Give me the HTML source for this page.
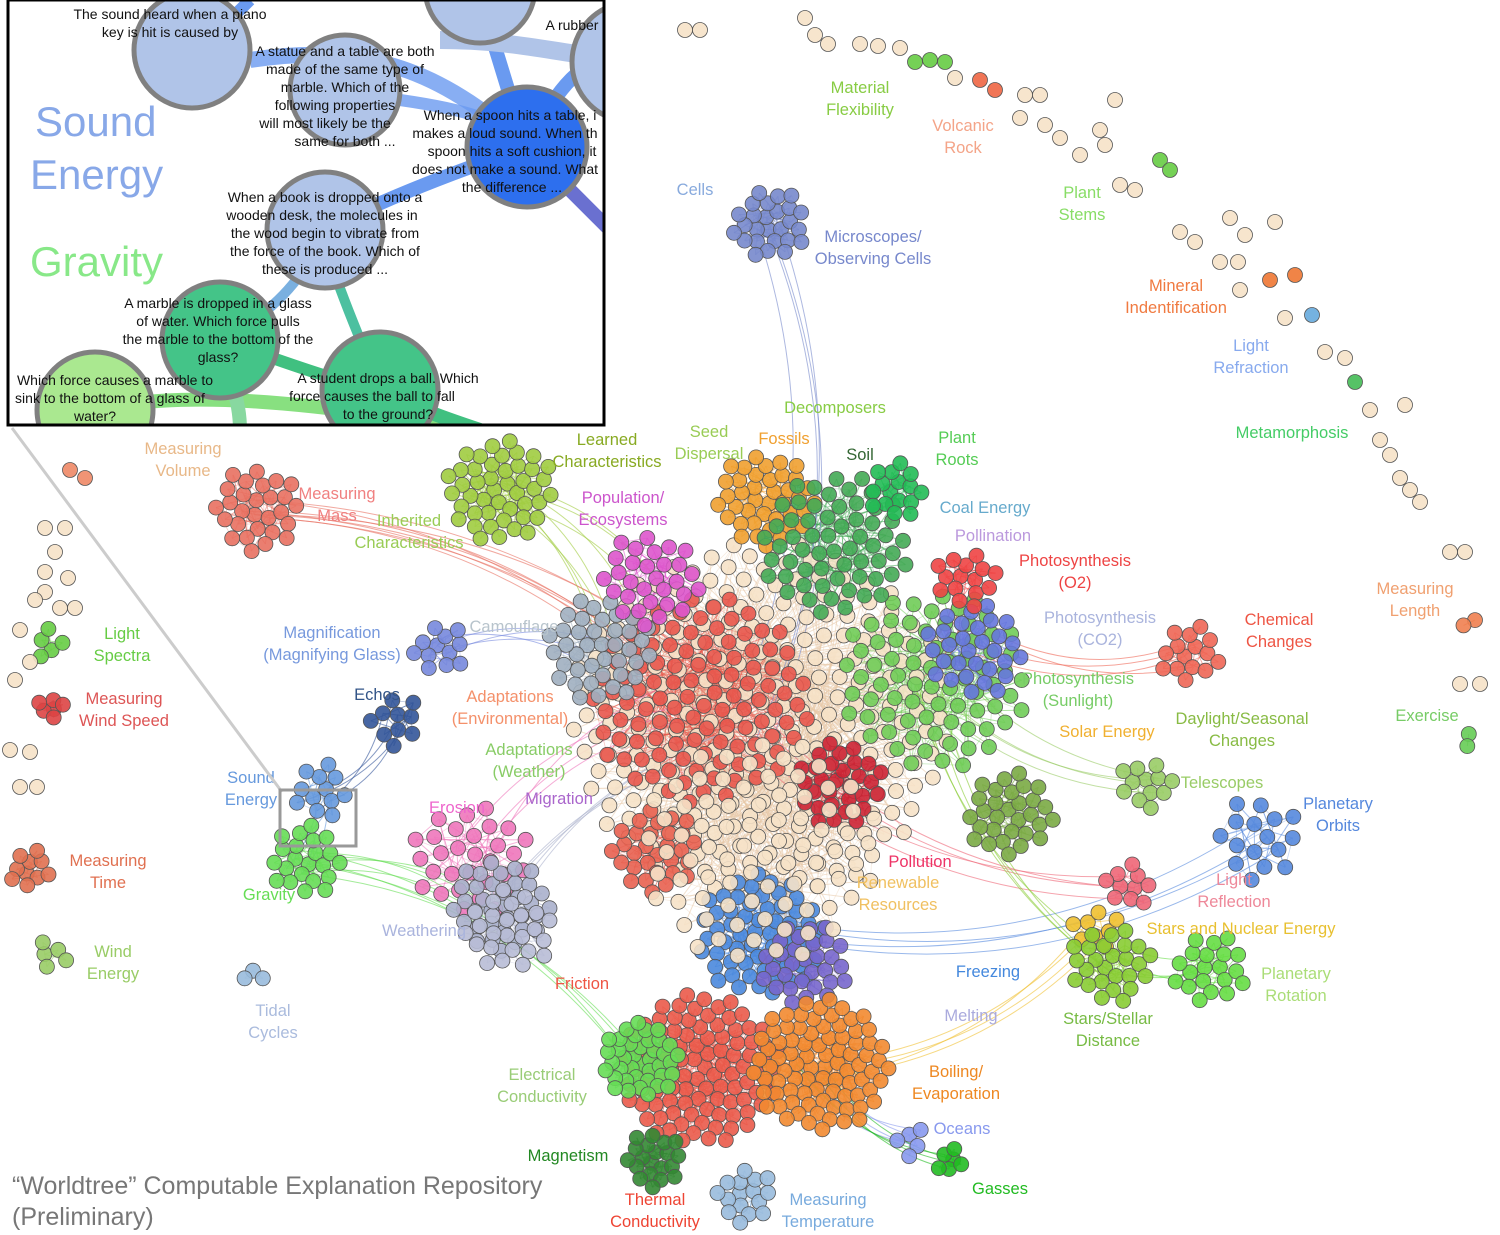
<!DOCTYPE html>
<html><head><meta charset="utf-8">
<style>
html,body{margin:0;padding:0;background:#fff;}
svg{display:block;font-family:"Liberation Sans",sans-serif;}
</style></head>
<body>
<svg id="chart" width="1500" height="1235" viewBox="0 0 1500 1235" xmlns="http://www.w3.org/2000/svg">
<g id="edges"></g>
<g id="nodes"></g>
<g id="labels"></g>
<line x1="12" y1="428" x2="282" y2="792" stroke="#ccc" stroke-width="3"/>
<rect x="280" y="790" width="76" height="56" fill="none" stroke="#999" stroke-width="3"/>
<g id="inset">
 <defs><clipPath id="ic"><rect x="8" y="0" width="596" height="425"/></clipPath></defs>
 <rect x="8" y="0" width="596" height="425" fill="#fff"/>
 <g clip-path="url(#ic)">
  <path d="M250,60 C380,40 450,80 527,147" stroke="#6a9af0" stroke-width="16" fill="none" opacity="0.8"/>
  <path d="M400,100 C470,110 500,120 527,147" stroke="#6a9af0" stroke-width="12" fill="none" opacity="0.8"/>
  <path d="M480,0 C500,60 510,100 527,147" stroke="#6a9af0" stroke-width="14" fill="none"/>
  <path d="M527,147 C560,80 590,50 630,60" stroke="#6a9af0" stroke-width="14" fill="none"/>
  <path d="M527,147 C560,180 590,210 610,230" stroke="#6a70d0" stroke-width="14" fill="none"/>
  <path d="M527,147 C460,170 380,200 325,230" stroke="#6a9af0" stroke-width="14" fill="none"/>
  <path d="M250,0 C230,20 210,40 192,50" stroke="#6a9af0" stroke-width="12" fill="none"/>
  <path d="M440,40 C520,40 560,55 630,60" stroke="#b0c4e8" stroke-width="18" fill="none"/>
  <path d="M325,230 C300,290 260,320 220,340" stroke="#7ab0e0" stroke-width="10" fill="none"/>
  <path d="M330,260 C350,320 370,360 380,390" stroke="#4cc0a0" stroke-width="10" fill="none"/>
  <path d="M220,340 C280,360 330,380 380,390" stroke="#40c080" stroke-width="12" fill="none"/>
  <path d="M95,410 C180,390 300,400 480,430" stroke="#88e080" stroke-width="14" fill="none"/>
  <path d="M220,340 C230,380 240,400 240,430" stroke="#88d8a0" stroke-width="14" fill="none"/>
  <path d="M380,390 C420,410 450,420 480,430" stroke="#40c080" stroke-width="14" fill="none"/>
  <g stroke="#808080" stroke-width="5">
   <circle cx="192" cy="50" r="58" fill="#b0c4e8"/>
   <circle cx="480" cy="-12" r="55" fill="#b0c4e8"/>
   <circle cx="632" cy="62" r="60" fill="#b0c4e8"/>
   <circle cx="345" cy="90" r="55" fill="#b0c4e8"/>
   <circle cx="527" cy="147" r="60" fill="#2d6fee"/>
   <circle cx="325" cy="230" r="58" fill="#b0c4e8"/>
   <circle cx="220" cy="340" r="58" fill="#44c488"/>
   <circle cx="380" cy="390" r="58" fill="#44c488"/>
   <circle cx="95" cy="410" r="58" fill="#aae890"/>
  </g>
  <g font-size="14" fill="#111" text-anchor="middle">
   <text x="170" y="19">The sound heard when a piano</text><text x="170" y="37">key is hit is caused by</text>
   <text x="345" y="56">A statue and a table are both</text><text x="345" y="74">made of the same type of</text><text x="345" y="92">marble. Which of the</text><text x="335" y="110">following properties</text><text x="325" y="128">will most likely be the</text><text x="345" y="146">same for both ...</text>
   <text x="572" y="30">A rubber</text>
   <text x="510" y="120">When a spoon hits a table, i</text><text x="505" y="138">makes a loud sound. When th</text><text x="512" y="156">spoon hits a soft cushion, it</text><text x="505" y="174">does not make a sound. What</text><text x="512" y="192">the difference ...</text>
   <text x="325" y="202">When a book is dropped onto a</text><text x="322" y="220">wooden desk, the molecules in</text><text x="325" y="238">the wood begin to vibrate from</text><text x="325" y="256">the force of the book. Which of</text><text x="325" y="274">these is produced ...</text>
   <text x="218" y="308">A marble is dropped in a glass</text><text x="218" y="326">of water. Which force pulls</text><text x="218" y="344">the marble to the bottom of the</text><text x="218" y="362">glass?</text>
   <text x="115" y="385">Which force causes a marble to</text><text x="110" y="403">sink to the bottom of a glass of</text><text x="95" y="421">water?</text>
   <text x="388" y="383">A student drops a ball. Which</text><text x="372" y="401">force causes the ball to fall</text><text x="388" y="419">to the ground?</text>
  </g>
  <text x="35" y="136" font-size="42" fill="#88a8e8">Sound</text>
  <text x="30" y="189" font-size="42" fill="#88a8e8">Energy</text>
  <text x="30" y="276" font-size="42" fill="#88e888">Gravity</text>
 </g>
 <rect x="8" y="0" width="596" height="425" fill="none" stroke="#000" stroke-width="3"/>
</g>
<text x="12" y="1194" font-size="25" fill="#777">“Worldtree” Computable Explanation Repository</text>
<text x="12" y="1225" font-size="25" fill="#777">(Preliminary)</text>
</svg>
<script>
// clusters: name, centerX, centerY, spread, count, color
const clusterNames=["beige-main","red-main","green-right","blue-right","darkred","grayblue-left","magenta","orange-top","green-top","darkgreen-top","blue-lower","purple-lower","red-bottom","orange-bottom","green-lowleft","darkgreen-bottom","lightblue-bottom","olive-right","pink-left","lavender-left","red-mid","mass-volume","characteristics","magnification","echos","sound","gravity","cells","chemical","photo-o2","telescopes","orbits","reflection","stars-yellow","stellar","rotation","oceans","gasses","wind-speed","light-spectra","measuring-time","wind-energy","tidal","exercise","length","beige-lower","grey-weathering"];
const clusterX=[760,700,935,975,840,600,650,765,835,895,760,805,700,820,640,655,745,1010,470,500,655,258,500,440,395,320,305,770,1190,965,1145,1260,1130,1095,1110,1210,910,950,50,50,30,50,255,1466,1470,760,510];
const clusterY=[720,700,680,650,785,650,580,500,545,490,935,965,1070,1065,1060,1160,1195,815,860,905,850,510,490,650,720,790,860,225,655,580,785,840,885,930,965,970,1140,1162,708,645,870,955,975,738,620,850,930];
const clusterSpread=[190,110,95,50,45,55,50,50,75,30,65,45,80,70,40,30,30,45,60,50,45,45,55,28,28,30,38,38,32,32,28,45,25,25,42,38,18,15,14,18,22,18,12,10,10,120,45];
const clusterCount=[260,110,75,30,30,40,30,40,60,16,60,30,100,85,40,20,16,30,30,35,30,28,45,12,10,12,22,26,15,15,12,16,10,8,26,20,5,6,6,5,10,5,3,2,2,80,25];
const clusterColor=["#f6e2c8","#e8574c","#70cc58","#6677dd","#cc2233","#a0afc0","#dd55cc","#f0a030","#44aa55","#22bb55","#4a88dd","#7766cc","#ea5a4a","#f28a30","#66dd55","#338833","#99bbdd","#7aaa44","#ee77bb","#aab0cc","#e86050","#e87060","#a0cc40","#7788dd","#335599","#6699dd","#66dd55","#7788cc","#ee6655","#ee4444","#99cc66","#5588dd","#ee6677","#f0c030","#88cc33","#66dd44","#8899ee","#22bb22","#dd4444","#66cc44","#e07050","#99cc66","#99bbdd","#66cc55","#f08050","#f6e2c8","#b8bdd6"];
// isolated beige pairs (top arc & left column)
const looseX=[685,700,805,815,828,860,878,900,915,930,945,955,980,995,1025,1040,1020,1045,1060,1080,1100,1105,1115,1120,1135,1160,1170,1180,1195,1230,1245,1275,1220,1238,1240,1270,1295,1285,1312,1325,1345,1355,1370,1380,1390,1400,1410,1420,1405,1450,1465,70,85,45,65,55,45,68,45,35,60,75,20,30,15,10,30,20,37,1460,1480];
const looseY=[30,30,18,35,44,44,46,48,62,60,62,78,80,90,95,95,118,125,138,155,130,145,100,185,190,160,170,232,242,218,235,222,262,262,290,280,275,318,315,352,358,382,410,440,455,478,490,502,405,552,552,470,478,528,528,552,572,578,592,600,608,608,630,662,680,750,752,787,787,684,684];
const looseColor=["#f6e2c8","#f6e2c8","#f6e2c8","#f6e2c8","#f6e2c8","#f6e2c8","#f6e2c8","#f6e2c8","#66cc44","#66cc44","#66cc44","#f6e2c8","#ee6644","#ee6644","#f6e2c8","#f6e2c8","#f6e2c8","#f6e2c8","#f6e2c8","#f6e2c8","#f6e2c8","#f6e2c8","#f6e2c8","#f6e2c8","#f6e2c8","#66cc44","#66cc44","#f6e2c8","#f6e2c8","#f6e2c8","#f6e2c8","#f6e2c8","#f6e2c8","#f6e2c8","#f6e2c8","#ee7733","#ee7733","#f6e2c8","#66aadd","#f6e2c8","#f6e2c8","#44bb55","#f6e2c8","#f6e2c8","#f6e2c8","#f6e2c8","#f6e2c8","#f6e2c8","#f6e2c8","#f6e2c8","#f6e2c8","#ee8866","#ee8866","#f6e2c8","#f6e2c8","#f6e2c8","#f6e2c8","#f6e2c8","#f6e2c8","#f6e2c8","#f6e2c8","#f6e2c8","#f6e2c8","#f6e2c8","#f6e2c8","#f6e2c8","#f6e2c8","#f6e2c8","#f6e2c8","#f6e2c8","#f6e2c8"];
// inter-cluster links (cluster index pairs)
const linkFrom=[27,21,22,23,24,25,26,29,28,30,31,32,33,34,35,36,37,18,19,26,22,21];
const linkTo=[0,0,6,5,25,26,19,2,3,2,10,0,13,2,34,13,13,1,0,14,5,1];
// labels
const labelText=["Material|Flexibility","Volcanic|Rock","Plant|Stems","Cells","Microscopes/|Observing Cells","Mineral|Indentification","Light|Refraction","Metamorphosis","Decomposers","Learned|Characteristics","Seed|Dispersal","Fossils","Soil","Plant|Roots","Coal Energy","Pollination","Population/|Ecosystems","Measuring|Volume","Measuring|Mass","Inherited|Characteristics","Photosynthesis|(O2)","Photosynthesis|(CO2)","Chemical|Changes","Measuring|Length","Camouflage","Magnification|(Magnifying Glass)","Photosynthesis|(Sunlight)","Light|Spectra","Measuring|Wind Speed","Echos","Adaptations|(Environmental)","Daylight/Seasonal|Changes","Exercise","Solar Energy","Adaptations|(Weather)","Sound|Energy","Telescopes","Planetary|Orbits","Migration","Erosion","Pollution","Renewable|Resources","Light|Reflection","Measuring|Time","Gravity","Weathering","Stars and Nuclear Energy","Wind|Energy","Freezing","Planetary|Rotation","Friction","Tidal|Cycles","Melting","Stars/Stellar|Distance","Electrical|Conductivity","Boiling/|Evaporation","Oceans","Magnetism","Gasses","Thermal|Conductivity","Measuring|Temperature"];
const labelX=[860,963,1082,695,873,1176,1251,1292,835,607,709,784,860,957,985,993,623,183,337,409,1075,1100,1279,1415,514,332,1078,122,124,377,510,1242,1427,1107,529,251,1222,1338,559,457,920,898,1234,108,269,424,1241,113,988,1296,582,273,971,1108,542,956,962,568,1000,655,828];
const labelY=[93,131,198,195,242,291,351,438,413,445,437,444,460,443,513,541,503,454,499,526,566,623,625,594,632,638,684,639,704,700,702,724,721,737,755,783,788,809,804,813,867,888,885,866,900,936,934,957,977,979,989,1016,1021,1024,1080,1077,1134,1161,1194,1205,1205];
const labelColor=["#88cc44","#f4a488","#88dd66","#88aadd","#7788cc","#f07a40","#88aaee","#44cc66","#88cc44","#88aa22","#99cc55","#f0a030","#336633","#55cc55","#66aacc","#bb99dd","#cc55cc","#e8b888","#f08080","#99cc55","#ee4444","#aab4dd","#ee5544","#f0a070","#b8c4cc","#7799dd","#77cc66","#66cc44","#dd5555","#335588","#f4906a","#88bb44","#77cc66","#f0b030","#88cc66","#6699dd","#99cc66","#5588dd","#aa66cc","#ee66cc","#ee3366","#f0c060","#ee8899","#e07050","#66dd55","#aab4dd","#e8c030","#99cc66","#4488dd","#aadd77","#ee5544","#aabbdd","#aaaadd","#77bb44","#99cc77","#ee8822","#8899ee","#228822","#22bb22","#ee4433","#77aadd"];

const NS="http://www.w3.org/2000/svg";
const eg=document.getElementById('edges'),ng=document.getElementById('nodes'),lg=document.getElementById('labels');
const GA=2.39996;
const pos=[];
clusterNames.forEach((nm,c)=>{
  const arr=[];
  for(let i=0;i<clusterCount[c];i++){
    const r=clusterSpread[c]*Math.sqrt((i+0.5)/clusterCount[c]);
    const a=i*GA+c;
    arr.push([clusterX[c]+r*Math.cos(a),clusterY[c]+r*Math.sin(a)*0.95]);
  }
  pos.push(arr);
});
function line(x1,y1,x2,y2,col,w,op,curve){
  const p=document.createElementNS(NS,'path');
  const mx=(x1+x2)/2+(curve?(y2-y1)*0.2:0),my=(y1+y2)/2-(curve?(x2-x1)*0.2:0);
  p.setAttribute('d',`M${x1.toFixed(1)},${y1.toFixed(1)} Q${mx.toFixed(1)},${my.toFixed(1)} ${x2.toFixed(1)},${y2.toFixed(1)}`);
  p.setAttribute('stroke',col);p.setAttribute('stroke-width',w);p.setAttribute('fill','none');p.setAttribute('opacity',op);
  
  
  eg.appendChild(p);
}
pos.forEach((arr,c)=>{
  const col=clusterColor[c]==="#f6e2c8"?"#e8c8a8":clusterColor[c];
  const n=arr.length;
  for(let i=0;i<n;i++){
    if(n>1){const j=(i+1)%n;line(arr[i][0],arr[i][1],arr[j][0],arr[j][1],col,1,0.55,false);}
    if(n>8){const k=(i*5+3)%n;line(arr[i][0],arr[i][1],arr[k][0],arr[k][1],col,0.8,0.35,false);}
  }
});
linkFrom.forEach((f,i)=>{
  const t=linkTo[i];
  for(let k=0;k<4;k++){
    const a=pos[f][k%pos[f].length],b=pos[t][(k*3)%pos[t].length];
    line(a[0],a[1],b[0],b[1],clusterColor[f],1,0.6,true);
  }
});
function node(x,y,col){
  const ci=document.createElementNS(NS,'circle');
  ci.setAttribute('cx',x.toFixed(1));ci.setAttribute('cy',y.toFixed(1));ci.setAttribute('r',7.5);
  ci.setAttribute('fill',col);ci.setAttribute('fill-opacity',0.9);ci.setAttribute('stroke','#555');ci.setAttribute('stroke-width',0.8);
  
  
  ng.appendChild(ci);
}
pos.forEach((arr,c)=>arr.forEach(p=>node(p[0],p[1],clusterColor[c])));
looseX.forEach((x,i)=>node(x,looseY[i],looseColor[i]));
labelText.forEach((t,i)=>{
  const tx=document.createElementNS(NS,'text');
  tx.setAttribute('x',labelX[i]);tx.setAttribute('y',labelY[i]);
  tx.setAttribute('text-anchor','middle');tx.setAttribute('font-size','16.5');tx.setAttribute('fill',labelColor[i]);
  
  
  t.split('|').forEach((s,k)=>{
    const ts=document.createElementNS(NS,'tspan');
    ts.setAttribute('x',labelX[i]);ts.setAttribute('dy',k?22:0);ts.textContent=s;tx.appendChild(ts);
  });
  lg.appendChild(tx);
});
</script>
</body></html>
